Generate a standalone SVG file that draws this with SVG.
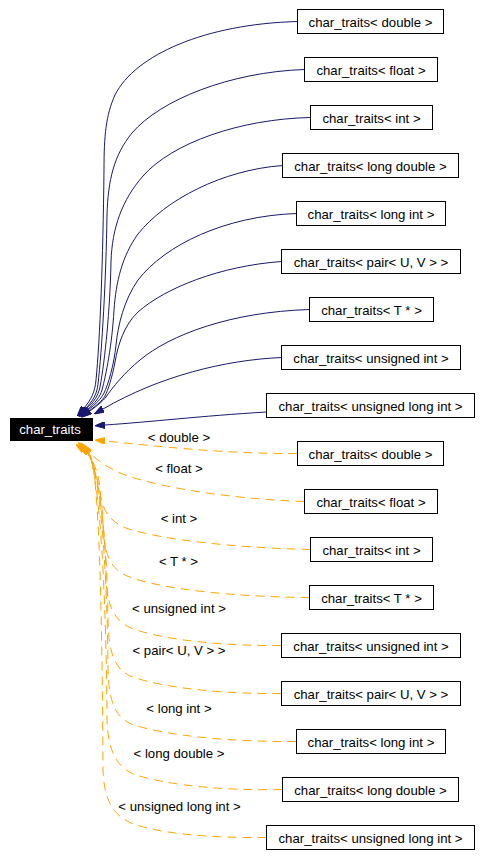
<svg xmlns="http://www.w3.org/2000/svg" width="482" height="868" viewBox="0 0 482 868">
<style>
text{font-family:"Liberation Sans",Arial,sans-serif;font-size:13.2px;fill:#000;text-anchor:middle}
.n rect{fill:#fff;stroke:#000;stroke-width:1}
.b{fill:none;stroke:#191970;stroke-width:1}
.o{fill:none;stroke:#ffa500;stroke-width:1;stroke-dasharray:9,6}
</style>
<defs>
<marker id="ab" viewBox="0 0 10 7" refX="0" refY="3.5" markerWidth="10" markerHeight="7" markerUnits="userSpaceOnUse" orient="auto"><path d="M0,0 L10,3.5 L0,7 z" fill="#191970" stroke="#191970" stroke-width="1"/></marker>
<marker id="ao" viewBox="0 0 10 7" refX="0" refY="3.5" markerWidth="10" markerHeight="7" markerUnits="userSpaceOnUse" orient="auto"><path d="M0,0 L10,3.5 L0,7 z" fill="#ffa500" stroke="#ffa500" stroke-width="1"/></marker>
</defs>
<rect width="482" height="868" fill="#fff"/>
<g id="edges">
<path class="b" marker-end="url(#ab)" d="M297.5,21.5 C205,24 135,55 115,95 C106,115 104,135 104,170 C103,260 100,340 96,380 C95,392 91,400 84,408"/>
<path class="b" marker-end="url(#ab)" d="M304.5,69.5 C230,72 160,100 132,133 C114,155 108,180 107,215 C106,280 102,350 98,384 C97,394 93,401 85,409"/>
<path class="b" marker-end="url(#ab)" d="M310.5,117.5 C240,119 172,143 143,176 C122,200 112,228 111,262 C110,310 105,360 100,387 C98,396 94,402 86,409"/>
<path class="b" marker-end="url(#ab)" d="M282.5,165.5 C222,170 165,200 138,234 C122,256 116,282 114,310 C112,345 106,375 102,390 C100,397 95,403 87,410"/>
<path class="b" marker-end="url(#ab)" d="M296.5,213.5 C225,216 165,245 138,280 C124,300 118,325 116,345 C114,365 108,385 104,393 C101,399 96,404 88,410"/>
<path class="b" marker-end="url(#ab)" d="M281.5,261.5 C220,266 165,288 138,312 C124,325 118,345 115,362 C112,378 108,390 105,396 C102,401 97,405 89,411"/>
<path class="b" marker-end="url(#ab)" d="M309.5,309.5 C230,312 170,335 140,360 C125,372 112,388 106,397 C103,401 98,405 90,411"/>
<path class="b" marker-end="url(#ab)" d="M281.5,357.5 C225,360 160,376 103,409"/>
<path class="b" marker-end="url(#ab)" d="M266.5,412 C200,416 150,422 105,425"/>
<path class="o" marker-end="url(#ao)" d="M297.5,453.5 C225,454 155,446 105,441"/>
<path class="o" marker-end="url(#ao)" d="M304.5,501.5 C230,499 155,487 120,473 C106,467 97,459 84,450"/>
<path class="o" marker-end="url(#ao)" d="M310.5,549.5 C240,548 160,540 126,528 C108,521 101,507 100,490 C99,472 92,458 85,450"/>
<path class="o" marker-end="url(#ao)" d="M309.5,597.5 C240,597 162,590 127,576 C109,568 104,552 103,525 C102,490 94,460 86,451"/>
<path class="o" marker-end="url(#ao)" d="M281.5,645.5 C222,646 162,640 131,628 C113,620 107,604 106,578 C105,510 95,462 87,451"/>
<path class="o" marker-end="url(#ao)" d="M281.5,693.5 C222,694 162,688 130,676 C114,668 109,652 108,622 C107,520 96,463 87,452"/>
<path class="o" marker-end="url(#ao)" d="M296.5,741.5 C232,742 166,736 131,724 C114,716 109,700 108,670 C107,540 97,464 88,452"/>
<path class="o" marker-end="url(#ao)" d="M282.5,789.5 C222,791 166,785 133,774 C116,766 108,750 107,720 C106,560 97,465 88,453"/>
<path class="o" marker-end="url(#ao)" d="M266.5,837.5 C210,838 160,834 131,823 C113,815 104,800 103,770 C102,580 98,466 89,453"/>
<text x="179" y="442">&lt; double &gt;</text>
<text x="179" y="473">&lt; float &gt;</text>
<text x="179" y="523">&lt; int &gt;</text>
<text x="178.5" y="566">&lt; T * &gt;</text>
<text x="179" y="613">&lt; unsigned int &gt;</text>
<text x="179" y="655">&lt; pair&lt; U, V &gt; &gt;</text>
<text x="179" y="713">&lt; long int &gt;</text>
<text x="179" y="758">&lt; long double &gt;</text>
<text x="179.5" y="811">&lt; unsigned long int &gt;</text>
</g>
<g id="char_traits"><rect x="10" y="418" width="83" height="23" fill="#000"/><text x="50" y="434" style="fill:#fff">char_traits</text></g>
<g id="b_double" class="n"><rect x="297.5" y="9.5" width="146" height="24"/><text x="370.5" y="26.5">char_traits&lt; double &gt;</text></g>
<g id="b_float" class="n"><rect x="304.5" y="57.5" width="133" height="24"/><text x="371" y="74.5">char_traits&lt; float &gt;</text></g>
<g id="b_int" class="n"><rect x="310.5" y="105.5" width="122" height="24"/><text x="371.5" y="122.5">char_traits&lt; int &gt;</text></g>
<g id="b_long_double" class="n"><rect x="282.5" y="153.5" width="176" height="24"/><text x="370.5" y="170.5">char_traits&lt; long double &gt;</text></g>
<g id="b_long_int" class="n"><rect x="296.5" y="201.5" width="149" height="24"/><text x="371" y="218.5">char_traits&lt; long int &gt;</text></g>
<g id="b_pair" class="n"><rect x="281.5" y="249.5" width="179" height="24"/><text x="371" y="266.5">char_traits&lt; pair&lt; U, V &gt; &gt;</text></g>
<g id="b_tptr" class="n"><rect x="309.5" y="297.5" width="124" height="24"/><text x="371.5" y="314.5">char_traits&lt; T * &gt;</text></g>
<g id="b_uint" class="n"><rect x="281.5" y="345.5" width="179" height="24"/><text x="371" y="362.5">char_traits&lt; unsigned int &gt;</text></g>
<g id="b_ulong" class="n"><rect x="266.5" y="393.5" width="208" height="24"/><text x="370.5" y="410.5">char_traits&lt; unsigned long int &gt;</text></g>
<g id="o_double" class="n"><rect x="297.5" y="441.5" width="146" height="24"/><text x="370.5" y="458.5">char_traits&lt; double &gt;</text></g>
<g id="o_float" class="n"><rect x="304.5" y="489.5" width="133" height="24"/><text x="371" y="506.5">char_traits&lt; float &gt;</text></g>
<g id="o_int" class="n"><rect x="310.5" y="537.5" width="122" height="24"/><text x="371.5" y="554.5">char_traits&lt; int &gt;</text></g>
<g id="o_tptr" class="n"><rect x="309.5" y="585.5" width="124" height="24"/><text x="371.5" y="602.5">char_traits&lt; T * &gt;</text></g>
<g id="o_uint" class="n"><rect x="281.5" y="633.5" width="179" height="24"/><text x="371" y="650.5">char_traits&lt; unsigned int &gt;</text></g>
<g id="o_pair" class="n"><rect x="281.5" y="681.5" width="179" height="24"/><text x="371" y="698.5">char_traits&lt; pair&lt; U, V &gt; &gt;</text></g>
<g id="o_long_int" class="n"><rect x="296.5" y="729.5" width="149" height="24"/><text x="371" y="746.5">char_traits&lt; long int &gt;</text></g>
<g id="o_long_double" class="n"><rect x="282.5" y="777.5" width="176" height="24"/><text x="370.5" y="794.5">char_traits&lt; long double &gt;</text></g>
<g id="o_ulong" class="n"><rect x="266.5" y="825.5" width="208" height="24"/><text x="370.5" y="842.5">char_traits&lt; unsigned long int &gt;</text></g>
</svg>
